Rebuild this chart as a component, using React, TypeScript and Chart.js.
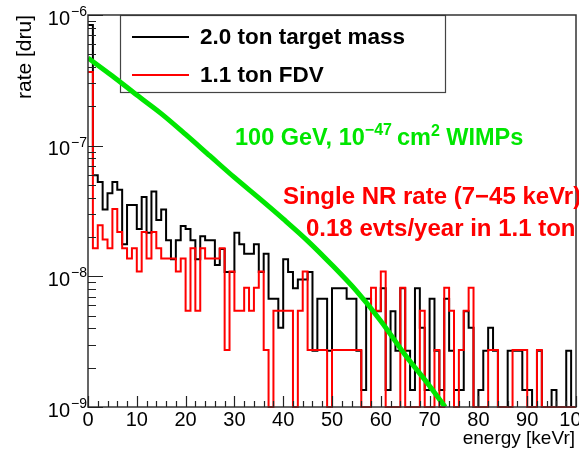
import React, { useEffect, useRef } from "react";
import { Chart, registerables } from "chart.js";

Chart.register(...registerables);

// ---------------- data ----------------
// Histograms: 100 bins of 1 keVr, value of bin i covers [i, i+1) keVr. Units: dru.
const blackRate = [
  8.4e-7, 5.94e-8, 5.27e-8, 3.24e-8, 4.32e-8, 5.27e-8, 4.59e-8, 1.76e-8, 3.51e-8, 3.51e-8,
  2.3e-8, 4.05e-8, 2.16e-8, 4.46e-8, 2.7e-8, 3.24e-8, 1.89e-8, 1.35e-8, 1.89e-8, 2.43e-8,
  2.3e-8, 1.89e-8, 1.35e-8, 2.03e-8, 1.89e-8, 1.89e-8, 1.22e-8, 1.62e-8, 1.08e-8, 1.08e-8,
  2.16e-8, 1.76e-8, 1.49e-8, 1.49e-8, 1.76e-8, 1.08e-8, 1.49e-8, 6.75e-9, 6.75e-9, 4.05e-9,
  1.35e-8, 1.08e-8, 8.1e-9, 9.45e-9, 9.45e-9, 1.08e-8, 2.7e-9, 6.75e-9, 6.75e-9, 2.7e-9,
  8.1e-9, 8.1e-9, 8.1e-9, 6.75e-9, 6.75e-9, 2.7e-9, 1.35e-9, 6.75e-9, 5.4e-9, 5.4e-9,
  8.1e-9, 1.35e-9, 5.4e-9, 2.7e-9, 8.1e-9, 2.7e-9, 1.35e-9, 8.1e-9, 4.05e-9, 1.35e-9,
  6.75e-9, 2.7e-9, 1.35e-9, 6.75e-9, 2.7e-9, 1.35e-9, 1.35e-9, 5.4e-9, 4.05e-9, 0,
  1.35e-9, 2.7e-9, 4.05e-9, 2.7e-9, 0, 0, 2.7e-9, 2.7e-9, 2.7e-9, 1.35e-9,
  1.35e-9, 0, 2.7e-9, 0, 0, 1.35e-9, 0, 0, 2.7e-9, 0,
];

const redRate = [
  3.66e-7, 1.64e-8, 2.46e-8, 1.91e-8, 1.64e-8, 3.28e-8, 2.18e-8, 1.64e-8, 1.37e-8, 1.64e-8,
  1.09e-8, 2.18e-8, 1.37e-8, 2.18e-8, 1.64e-8, 1.37e-8, 1.37e-8, 1.37e-8, 1.09e-8, 1.37e-8,
  5.46e-9, 1.64e-8, 5.46e-9, 1.64e-8, 1.37e-8, 1.37e-8, 1.37e-8, 1.64e-8, 2.73e-9, 1.09e-8,
  5.46e-9, 5.46e-9, 8.19e-9, 5.46e-9, 8.19e-9, 1.09e-8, 2.73e-9, 0, 5.46e-9, 5.46e-9,
  5.46e-9, 5.46e-9, 0, 5.46e-9, 1.09e-8, 2.73e-9, 2.73e-9, 2.73e-9, 2.73e-9, 0,
  2.73e-9, 2.73e-9, 2.73e-9, 2.73e-9, 2.73e-9, 2.73e-9, 0, 0, 8.19e-9, 5.46e-9,
  1.09e-8, 0, 0, 0, 8.19e-9, 0, 0, 0, 5.46e-9, 0,
  0, 2.73e-9, 0, 8.19e-9, 5.46e-9, 0, 2.73e-9, 5.46e-9, 8.19e-9, 0,
  0, 0, 2.73e-9, 2.73e-9, 0, 0, 0, 2.73e-9, 2.73e-9, 2.73e-9,
  0, 0, 2.73e-9, 0, 0, 0, 0, 0, 0, 0,
];

// WIMP spectrum (100 GeV, 1e-47 cm2)
const wimpEnergy = [0, 5, 10, 15, 20, 25, 30, 35, 40, 45, 50, 55, 60, 65, 70, 73.2];
const wimpRate = [
  4.69e-7, 3.41e-7, 2.44e-7, 1.76e-7, 1.22e-7, 8.34e-8, 5.71e-8, 3.98e-8,
  2.75e-8, 1.87e-8, 1.22e-8, 7.73e-9, 4.56e-9, 2.5e-9, 1.45e-9, 1.0e-9,
];

const xTickValues = [0, 10, 20, 30, 40, 50, 60, 70, 80, 90, 100];
const yDecades = [-9, -8, -7, -6];

const legendLabels = ["2.0 ton target mass", "1.1 ton FDV"];
const seriesColors = ["#000000", "#ff0000"];
const wimpColor = "#00e600";

const X_MIN = 0;
const X_MAX = 100;
const Y_MIN = 1e-9;
const Y_MAX = 1e-6;

const FONT = '"Liberation Sans", Arial, Helvetica, sans-serif';

function histPoints(values: number[]) {
  const pts = values.map((v, i) => ({ x: i, y: v === 0 ? Y_MIN : v }));
  const last = values[values.length - 1];
  pts.push({ x: values.length, y: last === 0 ? Y_MIN : last });
  return pts;
}

type Part = { t: string; size: number; bold?: boolean; dy?: number; gap?: number };

function drawRich(ctx: CanvasRenderingContext2D, parts: Part[], x: number, y: number, color: string) {
  ctx.fillStyle = color;
  ctx.textAlign = "left";
  ctx.textBaseline = "alphabetic";
  let cx = x;
  for (const p of parts) {
    ctx.font = `${p.bold ? "bold " : ""}${p.size}px ${FONT}`;
    cx += p.gap || 0;
    ctx.fillText(p.t, cx, y + (p.dy || 0));
    cx += ctx.measureText(p.t).width;
  }
}

const rootStyle = {
  id: "rootStyle",
  beforeDatasetsDraw(chart: any) {
    const ctx: CanvasRenderingContext2D = chart.ctx;
    ctx.save();
    // legend box
    ctx.fillStyle = "#ffffff";
    ctx.fillRect(120, 15, 325, 77);
    ctx.strokeStyle = "#444";
    ctx.lineWidth = 1.2;
    ctx.strokeRect(120.5, 15.5, 325, 77);
    const rows = [37, 75];
    legendLabels.forEach((lab, i) => {
      ctx.strokeStyle = seriesColors[i];
      ctx.lineWidth = 2;
      ctx.beginPath();
      ctx.moveTo(132, rows[i]);
      ctx.lineTo(189, rows[i]);
      ctx.stroke();
      ctx.fillStyle = "#000";
      ctx.font = `bold 22.5px ${FONT}`;
      ctx.textAlign = "left";
      ctx.textBaseline = "middle";
      ctx.fillText(lab, 200, rows[i] + 1);
    });
    ctx.restore();
  },
  afterDatasetsDraw(chart: any) {
    const ctx: CanvasRenderingContext2D = chart.ctx;
    const a = chart.chartArea;
    const xs = chart.scales.x;
    const ys = chart.scales.y;
    ctx.save();
    // frame
    ctx.strokeStyle = "#333";
    ctx.lineWidth = 1.5;
    ctx.strokeRect(a.left, a.top, a.right - a.left, a.bottom - a.top);

    // x ticks (inside)
    ctx.strokeStyle = "#222";
    ctx.lineWidth = 1.2;
    ctx.beginPath();
    for (let v = X_MIN; v <= X_MAX; v += 2) {
      const px = Math.round(xs.getPixelForValue(v)) + 0.5;
      const len = v % 10 === 0 ? 11 : 6;
      ctx.moveTo(px, a.bottom);
      ctx.lineTo(px, a.bottom - len);
    }
    // y ticks (inside)
    for (const d of yDecades) {
      for (let m = 1; m <= 9; m++) {
        const val = m * Math.pow(10, d);
        if (val > Y_MAX * 1.0001) break;
        const py = Math.round(ys.getPixelForValue(val)) + 0.5;
        const len = m === 1 ? 15 : 8;
        ctx.moveTo(a.left, py);
        ctx.lineTo(a.left + len, py);
      }
    }
    ctx.stroke();

    // tick labels
    ctx.fillStyle = "#000";
    ctx.font = `20px ${FONT}`;
    ctx.textAlign = "center";
    ctx.textBaseline = "middle";
    for (const v of xTickValues) {
      ctx.fillText(String(v), xs.getPixelForValue(v), a.bottom + 13);
    }
    for (const d of yDecades) {
      const py = ys.getPixelForValue(Math.pow(10, d));
      ctx.font = `20px ${FONT}`;
      ctx.textAlign = "right";
      ctx.textBaseline = "middle";
      ctx.fillText("10", 70, py + 4);
      ctx.font = `14px ${FONT}`;
      ctx.textAlign = "left";
      ctx.fillText("\u2212" + String(Math.abs(d)), 71, py - 3);
    }

    // axis titles
    ctx.font = `19px ${FONT}`;
    ctx.textAlign = "right";
    ctx.textBaseline = "middle";
    ctx.fillText("energy [keVr]", 575, 439);
    ctx.save();
    ctx.translate(25, a.top);
    ctx.rotate(-Math.PI / 2);
    ctx.font = `21px ${FONT}`;
    ctx.textAlign = "right";
    ctx.textBaseline = "middle";
    ctx.fillText("rate [dru]", 0, 0);
    ctx.restore();

    // annotations
    drawRich(
      ctx,
      [
        { t: "100 GeV, 10", size: 23.5, bold: true },
        { t: "\u221247", size: 16, bold: true, dy: -10 },
        { t: "cm", size: 23.5, bold: true, gap: 5 },
        { t: "2", size: 16, bold: true, dy: -9 },
        { t: " WIMPs", size: 23.5, bold: true },
      ],
      235,
      145,
      wimpColor
    );
    drawRich(ctx, [{ t: "Single NR rate (7\u221245 keVr)", size: 24, bold: true }], 283, 204, "#ff0000");
    drawRich(ctx, [{ t: "0.18 evts/year in 1.1 ton", size: 24, bold: true }], 306, 236, "#ff0000");
    ctx.restore();
  },
};

export default function App() {
  const ref = useRef<HTMLCanvasElement | null>(null);

  useEffect(() => {
    if (!ref.current) return;
    const chart = new Chart(ref.current, {
      type: "line",
      data: {
        datasets: [
          {
            label: "WIMP",
            data: wimpEnergy.map((e, i) => ({ x: e, y: wimpRate[i] })),
            borderColor: wimpColor,
            borderWidth: 5,
            pointRadius: 0,
            cubicInterpolationMode: "monotone",
            fill: false,
            order: 0,
            clip: 0,
          },
          {
            label: legendLabels[1],
            data: histPoints(redRate),
            borderColor: seriesColors[1],
            borderWidth: 2,
            pointRadius: 0,
            stepped: "before",
            fill: false,
            order: 1,
            clip: 3,
          },
          {
            label: legendLabels[0],
            data: histPoints(blackRate),
            borderColor: seriesColors[0],
            borderWidth: 2,
            pointRadius: 0,
            stepped: "before",
            fill: false,
            order: 2,
            clip: 3,
          },
        ],
      },
      options: {
        responsive: false,
        animation: false,
        devicePixelRatio: 1,
        layout: { padding: { left: 88, right: 3, top: 15, bottom: 47 } },
        plugins: { legend: { display: false }, tooltip: { enabled: false } },
        scales: {
          x: { type: "linear", min: X_MIN, max: X_MAX, display: false },
          y: { type: "logarithmic", min: Y_MIN, max: Y_MAX, display: false },
        },
      },
      plugins: [rootStyle],
    } as any);
    return () => chart.destroy();
  }, []);

  return (
    <div style={{ position: "absolute", left: 0, top: 0, width: 579, height: 454, background: "#fff" }}>
      <canvas ref={ref} width={579} height={454} style={{ display: "block" }} />
    </div>
  );
}
